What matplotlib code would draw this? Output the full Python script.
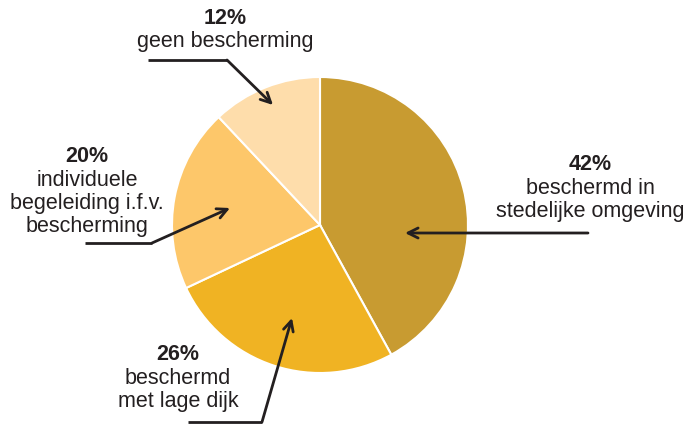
import matplotlib.pyplot as plt

labels = ["beschermd in\nstedelijke omgeving", "beschermd\nmet lage dijk",
          "individuele\nbegeleiding i.f.v.\nbescherming", "geen bescherming"]
shares = [42, 26, 20, 12]
colors = ["#C89B31", "#F0B323", "#FDC76A", "#FEDDAB"]

H = 426
plt.rcParams['font.family'] = ['Liberation Sans', 'DejaVu Sans']

fig = plt.figure(figsize=(6.9, 4.26), dpi=100)
ax = fig.add_axes([0, 0, 1, 1])

ax.pie(shares, colors=colors, startangle=90, counterclock=False,
       center=(320, H - 225), radius=148, frame=True,
       wedgeprops=dict(edgecolor='white', linewidth=1.5))
ax.set_xlim(0, 690)
ax.set_ylim(0, H)
ax.axis('off')

# label text positions (pixel coords, y from top) and arrow paths
text_pos = [(590, 165), (178, 355), (87, 157), (225, 18)]
paths = [
    [(588, 233), (405, 233)],
    [(188, 422), (262, 422), (292, 318)],
    [(85, 243), (152, 243), (230, 208)],
    [(148, 60), (227, 60), (273, 105)],
]

tc = "#231F20"
fs = 15.5
for lab, pct, (x, y), path in zip(labels, shares, text_pos, paths):
    ax.text(x, H - y, f"{pct}%", ha='center', va='center', fontsize=fs,
            fontweight='bold', color=tc)
    ax.text(x, H - y - 13, lab, ha='center', va='top', fontsize=fs,
            color=tc, linespacing=1.13)
    xs = [p[0] for p in path[:-1]]
    ys = [H - p[1] for p in path[:-1]]
    if len(xs) > 1:
        ax.plot(xs, ys, color=tc, lw=2, solid_capstyle='butt')
    ax.annotate("", xy=(path[-1][0], H - path[-1][1]),
                xytext=(path[-2][0], H - path[-2][1]),
                arrowprops=dict(arrowstyle='->', color=tc, lw=2,
                                mutation_scale=18, shrinkA=0, shrinkB=0))

fig.savefig("out.png", dpi=100)
